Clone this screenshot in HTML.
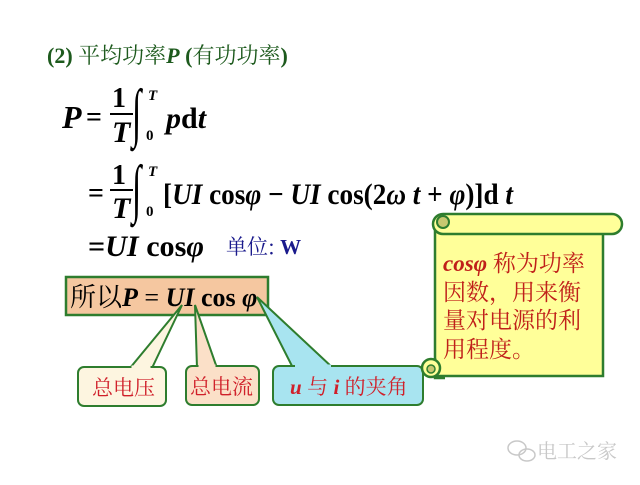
<!DOCTYPE html>
<html><head><meta charset="utf-8"><style>
html,body{margin:0;padding:0;background:#fff;}
body{width:640px;height:480px;overflow:hidden;}
svg text{font-family:"Liberation Serif","Noto Serif CJK SC",serif;}
</style></head><body>
<svg width="640" height="480" viewBox="0 0 640 480" xmlns="http://www.w3.org/2000/svg">
<rect width="640" height="480" fill="#fff"/>
<text x="47" y="63" font-size="22" fill="#1d5a1d" font-weight="bold">(2) <tspan font-family="Noto Serif CJK SC" font-weight="normal">平均功率</tspan><tspan font-style="italic">P</tspan> (<tspan font-family="Noto Serif CJK SC" font-weight="normal">有功功率</tspan>)</text>

<g font-weight="bold" fill="#000">
<text x="62" y="128" font-size="32" font-style="italic">P</text>
<text x="86" y="126" font-size="28">=</text>
<text x="112" y="107" font-size="28">1</text>
<line x1="110" y1="114" x2="133" y2="114" stroke="#000" stroke-width="2"/>
<text x="112" y="142" font-size="30" font-style="italic">T</text>
<text transform="translate(132,134) scale(1,1.9)" font-size="34" font-weight="bold">∫</text>
<text x="148" y="100" font-size="15" font-style="italic">T</text>
<text x="146" y="140" font-size="15">0</text>
<text x="166" y="128" font-size="30"><tspan font-style="italic">p</tspan>d<tspan font-style="italic">t</tspan></text>

<text x="88" y="202" font-size="28">=</text>
<text x="112" y="184" font-size="28">1</text>
<line x1="110" y1="190" x2="133" y2="190" stroke="#000" stroke-width="2"/>
<text x="112" y="218" font-size="30" font-style="italic">T</text>
<text transform="translate(132,210) scale(1,1.9)" font-size="34" font-weight="bold">∫</text>
<text x="148" y="176" font-size="15" font-style="italic">T</text>
<text x="146" y="216" font-size="15">0</text>
<text x="163" y="204" font-size="30" textLength="350" lengthAdjust="spacingAndGlyphs">[<tspan font-style="italic">UI</tspan> cos<tspan font-style="italic">φ</tspan> − <tspan font-style="italic">UI</tspan> cos(2<tspan font-style="italic">ω t</tspan> + <tspan font-style="italic">φ</tspan>)]d <tspan font-style="italic">t</tspan></text>

<text x="88" y="256" font-size="30" textLength="116" lengthAdjust="spacingAndGlyphs">=<tspan font-style="italic">UI</tspan> cos<tspan font-style="italic">φ</tspan></text>
</g>
<text x="226" y="254" font-size="21" fill="#1a1a8c"><tspan font-family="Noto Serif CJK SC">单位:</tspan> <tspan font-weight="bold">W</tspan></text>

<rect x="66" y="277" width="202" height="38" fill="#f5c7a0" stroke="#2e7d2e" stroke-width="2.5"/>
<text x="70" y="306" font-size="26" fill="#000"><tspan font-family="Noto Serif CJK SC">所以</tspan><tspan font-weight="bold" font-style="italic">P</tspan> = <tspan font-weight="bold" font-style="italic">UI</tspan> <tspan font-weight="bold">cos</tspan> <tspan font-weight="bold" font-style="italic">φ</tspan></text>

<polygon points="130,368 152,368 182,305" fill="#fdf5e0" stroke="#2e7d2e" stroke-width="2"/>
<polygon points="197,368 217,368 195,305" fill="#fbe0c8" stroke="#2e7d2e" stroke-width="2"/>
<polygon points="293,368 333,368 257,297" fill="#a8e4f0" stroke="#2e7d2e" stroke-width="2"/>

<rect x="78" y="367" width="88" height="39" rx="6" fill="#fdf5e0" stroke="#2e7d2e" stroke-width="2"/>
<rect x="186" y="366" width="73" height="39" rx="6" fill="#fbe0c8" stroke="#2e7d2e" stroke-width="2"/>
<rect x="273" y="366" width="150" height="39" rx="6" fill="#a8e4f0" stroke="#2e7d2e" stroke-width="2"/>
<line x1="131.5" y1="367" x2="150.5" y2="367" stroke="#fdf5e0" stroke-width="3"/>
<line x1="198.5" y1="366" x2="215.5" y2="366" stroke="#fbe0c8" stroke-width="3"/>
<line x1="295" y1="366" x2="331" y2="366" stroke="#a8e4f0" stroke-width="3"/>
<text x="92" y="395" font-size="21" fill="#d0202a" font-family="Noto Serif CJK SC">总电压</text>
<text x="190" y="394" font-size="21" fill="#d0202a" font-family="Noto Serif CJK SC">总电流</text>
<text x="290" y="394" font-size="21" fill="#d0202a"><tspan font-style="italic" font-weight="bold">u</tspan><tspan font-family="Noto Serif CJK SC"> 与 </tspan><tspan font-style="italic" font-weight="bold">i</tspan><tspan font-family="Noto Serif CJK SC"> 的夹角</tspan></text>

<rect x="435" y="230" width="168" height="146" fill="#ffff99" stroke="#2e7d2e" stroke-width="2.5"/>
<path d="M443,214 L612,214 A10,10 0 0 1 612,234 L443,234 A10,10 0 0 1 443,214 Z" fill="#ffff99" stroke="#2e7d2e" stroke-width="2.5"/>
<circle cx="443" cy="222" r="6" fill="#c8c870" stroke="#2e7d2e" stroke-width="2"/>
<path d="M435,358 L435,378 L445,378" fill="none" stroke="#2e7d2e" stroke-width="2.5"/>
<circle cx="431" cy="368" r="9" fill="#ffff99" stroke="#2e7d2e" stroke-width="2.5"/>
<circle cx="431" cy="369" r="4" fill="#c8c870" stroke="#2e7d2e" stroke-width="1.5"/>
<g font-size="23" fill="#c0201a" font-family="Noto Serif CJK SC">
<text x="443" y="271"><tspan font-family="Liberation Serif" font-style="italic" font-weight="bold">cosφ</tspan> 称为功率</text>
<text x="443" y="300">因数，用来衡</text>
<text x="443" y="328">量对电源的利</text>
<text x="443" y="357">用程度。</text>
</g>

<text x="537" y="458" font-size="20" fill="#c8c8c8" font-family="Noto Sans CJK SC">电工之家</text>
<g fill="none" stroke="#c8c8c8" stroke-width="1.5">
<ellipse cx="517" cy="448" rx="9" ry="7"/>
<ellipse cx="527" cy="455" rx="8" ry="6"/>
</g>
</svg>
</body></html>
